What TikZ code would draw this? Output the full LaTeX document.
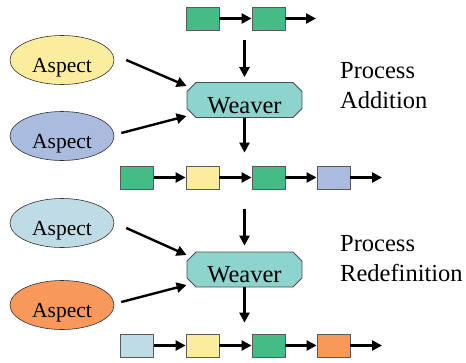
\documentclass[tikz,border=0pt]{standalone}
\usepackage{fontspec}
\setmainfont{Liberation Serif}
\usetikzlibrary{arrows.meta,shapes.geometric,shapes.misc}

\definecolor{blockgreen}{RGB}{69,187,133}
\definecolor{blockyellow}{RGB}{252,236,157}
\definecolor{blockblue}{RGB}{169,188,223}
\definecolor{blocklight}{RGB}{191,219,229}
\definecolor{blockorange}{RGB}{248,152,90}
\definecolor{weaverteal}{RGB}{141,212,206}

\begin{document}
\begin{tikzpicture}[x=1pt,y=-1pt,
  block/.style={rectangle, draw=black!65, line width=0.8pt, minimum width=33pt, minimum height=23pt, inner sep=0pt},
  aspect/.style={ellipse, draw=black!80, line width=0.6pt, minimum width=104pt, minimum height=49pt, inner sep=0pt,
    text height=24pt, text depth=0pt, font=\fontsize{21.5}{24}\selectfont},
  weaver/.style={chamfered rectangle, chamfered rectangle xsep=4.5pt, chamfered rectangle ysep=4.5pt,
    draw=black!70, line width=0.8pt, fill=weaverteal, minimum width=115pt, minimum height=34pt, inner sep=0pt,
    text height=26pt, text depth=0pt, font=\fontsize{24.5}{28}\selectfont},
  note/.style={anchor=west, align=left, inner sep=0pt, font=\fontsize{24.5}{30}\selectfont},
  flow/.style={line width=2.4pt, -{Triangle[length=10pt,width=10pt]}}]
\useasboundingbox (0,0) rectangle (466,362);

%Blocks: top row
\node[block, fill=blockgreen] (t1) at (202.5,18.5) {};
\node[block, fill=blockgreen] (t2) at (268.5,18.5) {};
\coordinate (tend) at (316,18.5);
\draw[flow] (t1) -- (t2);
\draw[flow] (t2) -- (tend);

%Blocks: middle row
\foreach \n/\x/\c in {1/137/blockgreen,2/202.5/blockyellow,3/268.5/blockgreen,4/333.5/blockblue}
  \node[block, fill=\c] (m\n) at (\x,177.5) {};
\coordinate (mend) at (382,177.5);
\foreach \i/\j in {1/2,2/3,3/4}
  \draw[flow] (m\i) -- (m\j);
\draw[flow] (m4) -- (mend);

%Blocks: bottom row
\foreach \n/\x/\c in {1/137/blocklight,2/202.5/blockyellow,3/268.5/blockgreen,4/333.5/blockorange}
  \node[block, fill=\c] (b\n) at (\x,345.5) {};
\coordinate (bend) at (382,345.5);
\foreach \i/\j in {1/2,2/3,3/4}
  \draw[flow] (b\i) -- (b\j);
\draw[flow] (b4) -- (bend);

%Shape: Weavers
\node[weaver] (w1) at (244.5,100) {Weaver};
\node[weaver] (w2) at (244.5,269.5) {Weaver};

%Shape: Aspects
\node[aspect, fill=blockyellow] (a1) at (62,60) {Aspect};
\node[aspect, fill=blockblue] (a2) at (62,136) {Aspect};
\node[aspect, fill=blocklight] (a3) at (62,223) {Aspect};
\node[aspect, fill=blockorange] (a4) at (62,305) {Aspect};

%Arrows into the weavers
\draw[flow] ([xshift=12pt]a1.east) -- ([yshift=14pt]w1.west);
\draw[flow] ([xshift=7pt,yshift=3pt]a2.east) -- ([yshift=-16pt]w1.west);
\draw[flow] ([xshift=12pt,yshift=-5pt]a3.east) -- ([yshift=14.5pt]w2.west);
\draw[flow] ([xshift=7pt,yshift=3pt]a4.east) -- ([yshift=-15.5pt]w2.west);

%Straight Lines: down through the weavers
\draw[flow, shorten <=10pt, shorten >=5pt] (w1.north |- t1.south) -- (w1.north);
\draw[flow, shorten >=13pt] (w1.south) -- (w1.south |- m1.north);
\draw[flow, shorten <=20pt, shorten >=6pt] (w2.north |- m1.south) -- (w2.north);
\draw[flow, shorten >=11pt] (w2.south) -- (w2.south |- b1.north);

% Text Node
\node[note] (addition) at (340,86) {Process\\Addition};
% Text Node
\node[note] (redefinition) at (340,259) {Process\\Redefinition};
\end{tikzpicture}
\end{document}
